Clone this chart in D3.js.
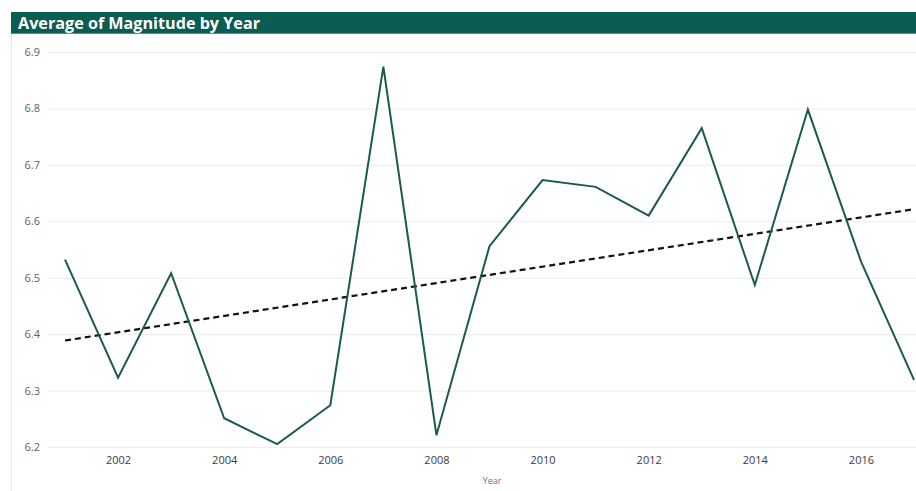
<!DOCTYPE html>
<html>
<head>
<meta charset="utf-8">
<script src="https://cdn.jsdelivr.net/npm/d3@7"></script>
<style>
  html, body { margin: 0; padding: 0; background: #ffffff; }
  svg { display: block; }
</style>
</head>
<body>
<svg id="chart" width="916" height="491"></svg>
<script>
// Average earthquake magnitude per year
const years = [2001, 2002, 2003, 2004, 2005, 2006, 2007, 2008, 2009,
               2010, 2011, 2012, 2013, 2014, 2015, 2016, 2017];
const avgMagnitude = [6.532, 6.323, 6.508, 6.251, 6.205, 6.274, 6.874, 6.221, 6.556,
                      6.673, 6.661, 6.610, 6.765, 6.487, 6.798, 6.529, 6.319];
const yTicks = [6.2, 6.3, 6.4, 6.5, 6.6, 6.7, 6.8, 6.9];
const xTicks = [2002, 2004, 2006, 2008, 2010, 2012, 2014, 2016];
const titleText = "Average of Magnitude by Year";
const xAxisTitle = "Year";

const svg = d3.select("#chart");
const W = 916, H = 491;

// Panel frame and header band
svg.append("rect").attr("x", 11).attr("y", 12).attr("width", W - 11).attr("height", H - 12)
  .attr("fill", "#ffffff");
svg.append("line").attr("x1", 11.5).attr("x2", 11.5).attr("y1", 12).attr("y2", H)
  .attr("stroke", "#e6e6e6").attr("stroke-width", 1);
svg.append("rect").attr("x", 11).attr("y", 12).attr("width", W - 11).attr("height", 21)
  .attr("fill", "#0b5c52");
svg.append("line").attr("x1", 11).attr("x2", W).attr("y1", 33.5).attr("y2", 33.5)
  .attr("stroke", "#5d8f86").attr("stroke-width", 1);
svg.append("text").attr("x", 18).attr("y", 28.5)
  .attr("fill", "#ffffff").attr("font-family", "'Open Sans', sans-serif")
  .attr("font-size", 15.5).attr("font-weight", 700)
  .attr("textLength", 242).attr("lengthAdjust", "spacingAndGlyphs")
  .text(titleText);

// Scales
const x = d3.scaleLinear().domain([2001, 2017]).range([65, 914]);
const y = d3.scaleLinear().domain([6.2, 6.9]).range([447, 52]);

// Horizontal gridlines + y labels
const yAxis = d3.axisLeft(y).tickValues(yTicks).tickFormat(d3.format(".1f"))
  .tickSize(-(W - 48)).tickPadding(8);
const gy = svg.append("g").attr("transform", "translate(48,0)").call(yAxis);
gy.select(".domain").remove();
gy.selectAll(".tick line").attr("stroke", "#ececec").attr("stroke-width", 1);
gy.selectAll(".tick text")
  .attr("fill", "#5f5f5f").attr("font-family", "'Open Sans', sans-serif")
  .attr("font-size", 11);

// X axis labels
const xAxis = d3.axisBottom(x).tickValues(xTicks).tickFormat(d3.format("d"))
  .tickSize(0).tickPadding(9);
const gx = svg.append("g").attr("transform", "translate(0,447)").call(xAxis);
gx.select(".domain").remove();
gx.selectAll(".tick text")
  .attr("fill", "#3a3a3a").attr("font-family", "'Open Sans', sans-serif")
  .attr("font-size", 11);

svg.append("text").attr("x", x(2009.05)).attr("y", 484)
  .attr("text-anchor", "middle").attr("fill", "#777777")
  .attr("font-family", "'Open Sans', sans-serif").attr("font-size", 9)
  .text(xAxisTitle);

// Series data
const data = years.map((yr, i) => ({ year: yr, value: avgMagnitude[i] }));

// Least-squares trend line over the series
const n = data.length;
const mx = d3.mean(data, d => d.year), my = d3.mean(data, d => d.value);
const slope = d3.sum(data, d => (d.year - mx) * (d.value - my)) /
              d3.sum(data, d => (d.year - mx) ** 2);
const intercept = my - slope * mx;
const trend = [years[0], years[n - 1]].map(yr => ({ year: yr, value: intercept + slope * yr }));

const line = d3.line().x(d => x(d.year)).y(d => y(d.value));

svg.append("path").datum(trend).attr("d", line)
  .attr("fill", "none").attr("stroke", "#111111").attr("stroke-width", 2.2)
  .attr("stroke-dasharray", "6,4");

svg.append("path").datum(data).attr("d", line)
  .attr("fill", "none").attr("stroke", "#1b5b4f").attr("stroke-width", 2)
  .attr("stroke-linejoin", "miter");
</script>
</body>
</html>
